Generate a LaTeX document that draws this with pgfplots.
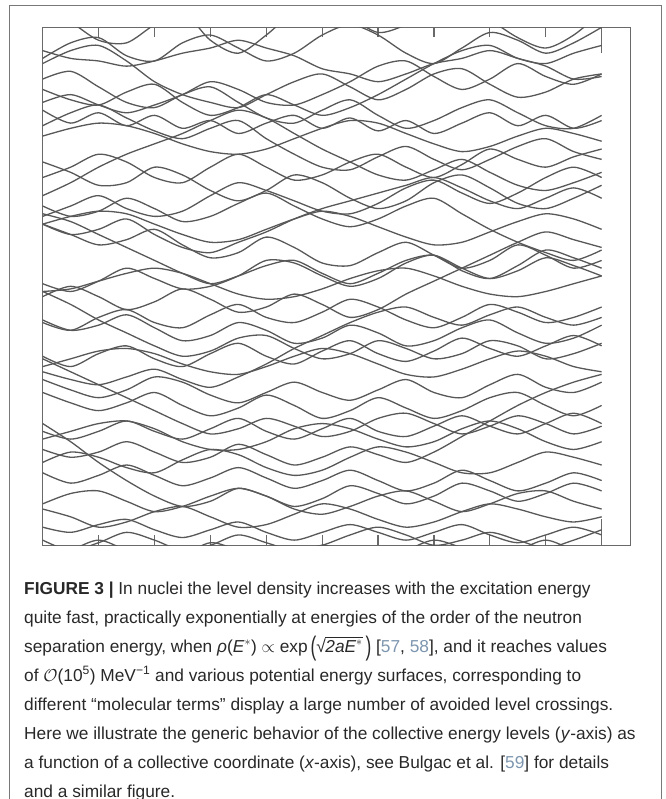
\documentclass[border=0pt]{standalone}
\usepackage{pgfplots}
\pgfplotsset{compat=1.18}
\usepackage{pgfplotstable}
\usepackage{amsmath}
\usepackage{graphicx}
\usepackage{fontspec}
\setmainfont{Liberation Sans}
\definecolor{levc}{RGB}{88,88,88}
\definecolor{axc}{RGB}{105,105,105}
\definecolor{capc}{RGB}{40,40,40}
\definecolor{lnk}{RGB}{125,150,175}
\definecolor{frc}{RGB}{120,120,120}
\pgfplotstableread{
name v0 v1 v2 v3 v4 v5 v6 v7 v8 v9 v10 v11 v12 v13 v14 v15 v16 v17 v18 v19 v20
xx 0 0.5 1 1.5 2 2.5 3 3.5 4 4.5 5 5.5 6 6.5 7 7.5 8 8.5 9 9.5 10
c1 10.35 10.1 9.75 9.7 10.05 10.3 9.75 9.5 9.85 10.3 10.45 10.2 9.9 10.05 10.35 10.5 10.15 9.8 9.6 9.85 10.3
c2 9.4 9.7 9.8 9.45 9.35 9.7 9.85 9.6 9.35 9.5 9.85 10.05 9.85 9.5 9.3 9.6 9.9 9.75 9.5 9.7 10.0
c3 9.55 9.4 9.35 9.25 9.35 9.5 9.6 9.75 9.6 9.45 9.2 9.1 8.95 9.1 9.3 9.4 9.55 9.4 9.25 9.0 9.05
c4 9.3 9.55 9.65 9.35 8.95 8.7 8.55 8.45 8.7 8.95 9.1 8.85 8.6 8.8 9.1 9.2 8.9 8.65 8.75 9.0 9.1
c5 8.55 8.7 8.5 8.35 8.5 8.7 8.95 8.8 8.55 8.5 8.7 8.95 9.25 9.35 9.05 8.8 9.0 9.3 9.05 8.9 9.1
c6 8.8 8.6 8.5 8.75 8.9 8.55 8.3 8.45 8.7 8.5 8.3 8.45 8.7 9.0 9.3 9.55 9.65 9.4 9.3 9.5 9.65
c7 9.0 9.15 8.85 8.55 8.45 8.7 8.85 8.55 8.25 8.15 8.4 8.6 8.3 8.05 8.2 8.45 8.6 8.35 8.1 8.05 8.3
c8 8.4 8.15 8.35 8.1 8.3 8.05 8.2 7.95 8.15 8.3 8.05 8.25 8.0 8.2 7.95 8.15 8.35 8.1 8.3 8.05 8.2
c9 8.1 8.35 8.5 8.25 8.0 7.85 8.05 8.2 7.85 7.55 7.3 7.25 7.5 7.7 7.45 7.25 7.45 7.7 7.85 7.6 7.45
c10 7.9 8.05 8.15 8.1 7.95 7.75 7.6 7.55 7.65 7.85 8.05 8.2 8.15 7.95 7.75 7.6 7.7 7.9 8.05 7.95 7.8
c11 7.1 7.3 7.55 7.4 7.1 7.0 7.3 7.55 7.3 7.05 7.15 7.4 7.55 7.3 7.1 7.35 7.65 7.45 7.3 7.5 7.65
c12 6.75 7.0 7.3 7.55 7.75 7.95 8.2 8.4 8.25 7.95 7.65 7.4 7.15 7.05 7.25 7.45 7.2 6.95 6.85 7.0 7.2
c13 7.4 7.2 6.95 7.0 7.3 7.15 6.85 6.65 6.85 7.15 7.0 6.7 6.5 6.65 7.0 7.15 6.9 6.6 6.5 6.7 6.95
c14 6.35 6.55 6.75 6.5 6.35 6.45 6.75 7.0 6.85 6.65 6.45 6.4 6.6 6.9 7.05 6.8 6.6 6.8 7.1 7.3 7.1
c15 6.55 6.35 6.45 6.7 6.5 6.25 6.35 6.6 6.8 6.55 6.3 6.15 6.3 6.55 6.7 6.4 6.1 5.85 5.65 5.5 5.7
c16 6.2 6.35 6.45 6.4 6.2 6.0 5.85 5.9 6.1 6.3 6.45 6.35 6.15 5.95 5.8 5.85 6.05 6.25 6.4 6.3 6.1
c17 6.2 6.0 6.1 6.3 6.0 5.75 5.65 5.85 6.05 6.3 6.5 6.65 6.8 6.95 7.1 6.9 6.65 6.5 6.7 6.9 6.7
c18 6.2 6.0 5.8 5.9 6.1 5.8 5.55 5.65 5.95 5.75 5.45 5.4 5.65 5.85 5.6 5.35 5.5 5.8 5.6 5.35 5.5
c19 6.4 6.25 6.0 5.75 5.5 5.25 5.05 5.2 5.4 5.5 5.25 5.05 5.25 5.5 5.6 5.35 5.15 5.3 5.55 5.4 5.2
c20 5.05 4.9 5.1 5.35 5.15 4.95 5.0 5.2 5.5 5.45 5.2 5.0 5.15 5.45 5.6 5.3 5.15 5.4 5.7 5.55 5.35
c21 4.9 4.95 5.1 5.25 5.35 5.25 5.05 4.85 4.75 4.8 4.95 5.15 5.3 5.35 5.2 5.0 4.85 4.8 4.9 5.05 5.2
c22 4.8 5.0 4.8 4.55 4.7 4.95 4.75 4.5 4.6 4.85 4.65 4.4 4.55 4.85 5.1 5.35 5.6 5.85 6.05 5.9 5.75
c23 4.3 4.15 4.4 4.55 4.3 4.2 4.45 4.65 4.4 4.3 4.5 4.75 4.6 4.35 4.2 4.4 4.65 4.5 4.3 4.4 4.6
c24 4.35 4.15 4.25 4.45 4.2 3.95 4.05 4.3 4.15 3.9 4.0 4.25 4.1 3.85 3.95 4.2 4.35 4.1 3.9 4.0 4.25
c25 4.9 4.65 4.35 4.1 3.85 3.65 3.75 4.0 4.05 3.8 3.6 3.7 3.95 3.8 3.6 3.7 3.95 3.85 3.6 3.7 3.9
c26 3.65 3.45 3.7 3.85 3.6 3.45 3.7 3.9 3.65 3.5 3.75 3.95 3.7 3.55 3.75 4.0 3.8 3.65 3.85 4.05 3.85
c27 3.45 3.6 3.75 3.8 3.7 3.5 3.35 3.3 3.45 3.65 3.8 3.7 3.5 3.3 3.25 3.4 3.6 3.75 3.65 3.45 3.35
c28 3.35 3.2 3.1 3.25 3.4 3.2 3.05 3.25 3.5 3.8 4.05 4.3 4.5 4.6 4.4 4.25 4.45 4.6 4.4 4.25 4.4
c29 3.2 3.0 2.85 3.0 3.25 3.15 2.9 2.75 2.95 3.15 2.95 2.8 3.0 3.2 2.95 2.85 3.1 3.3 3.05 2.95 3.15
c30 2.95 2.75 2.6 2.75 2.95 2.7 2.5 2.65 2.9 2.7 2.45 2.6 2.85 2.65 2.45 2.6 2.85 2.95 2.7 2.5 2.7
c31 3.6 3.35 3.1 2.85 2.6 2.35 2.15 2.25 2.45 2.3 2.1 2.2 2.45 2.55 2.35 2.15 2.3 2.5 2.35 2.15 2.3
c32 2.2 2.05 2.2 2.4 2.2 2.05 2.25 2.45 2.2 2.05 2.25 2.45 2.2 2.1 2.3 2.5 2.3 2.15 2.35 2.55 2.35
c33 2.05 2.2 2.35 2.4 2.25 2.0 1.85 1.85 2.0 2.25 2.35 2.25 2.05 1.9 2.0 2.25 2.4 2.25 2.0 1.85 2.0
c34 1.85 1.7 1.8 2.0 1.8 1.6 1.7 1.95 1.75 1.55 1.7 1.9 1.75 1.6 1.8 2.1 2.4 2.7 2.95 3.15 3.3
c35 1.6 1.8 1.7 1.5 1.4 1.65 1.85 1.75 1.5 1.35 1.45 1.7 1.9 1.8 1.6 1.4 1.4 1.6 1.8 1.7 1.55
c36 1.4 1.2 1.35 1.55 1.35 1.15 1.3 1.5 1.3 1.1 1.25 1.45 1.25 1.05 1.2 1.45 1.25 1.05 1.2 1.4 1.25
c37 2.35 2.0 1.6 1.25 0.95 0.75 0.85 1.1 0.95 0.75 0.9 1.15 1.0 0.8 0.95 1.2 1.05 0.85 1.0 1.2 1.05
c38 0.8 1.0 1.05 0.85 0.65 0.75 0.95 1.1 0.95 0.7 0.6 0.75 0.95 1.05 0.85 0.65 0.8 1.0 1.05 0.85 0.7
c39 0.7 0.55 0.35 0.45 0.65 0.75 0.55 0.35 0.4 0.6 0.8 0.7 0.5 0.35 0.45 0.65 0.8 0.7 0.55 0.45 0.55
c40 0.35 0.25 0.4 0.5 0.3 0.15 0.3 0.45 0.25 0.1 0.25 0.4 0.25 0.1 0.25 0.4 0.2 0.05 0.2 0.35 0.2
c41 0.1 -0.1 0.05 0.25 0.1 -0.1 0.0 0.2 0.05 -0.1 0.0 0.2 0.35 0.2 0.0 0.1 0.25 0.1 -0.05 0.1 0.3
c42 -0.3 -0.1 0.1 -0.1 -0.3 -0.2 0.05 -0.1 -0.3 -0.2 0.0 -0.15 -0.3 -0.1 0.1 -0.05 -0.25 -0.1 0.1 -0.1 -0.3
}\rawlevels
\pgfplotstabletranspose[colnames from=name]\levels\rawlevels

\begin{document}
\begin{tikzpicture}
\path[use as bounding box] (0,0) rectangle (665pt,-799pt);
\draw[frc, line width=1pt] (9pt,-810pt) -- (9pt,-6pt) -- (661pt,-6pt) -- (661pt,-810pt);
\begin{axis}[
  at={(42.7pt,-27.3pt)}, anchor=north west,
  scale only axis, width=588pt, height=518pt,
  xmin=0, xmax=10.52, ymin=0, ymax=10,
  xtick={0,10}, minor xtick={1,2,3,4,5,6,7,8,9},
  ytick=\empty, minor ytick={1,2,3,4,5,6,7,8,9},
  xticklabels={}, yticklabels={},
  tick align=inside, tick pos=both,
  major tick length=26pt, minor tick length=10pt,
  axis line style={axc, line width=1.2pt},
  every tick/.style={axc, line width=1.2pt},
  every minor tick/.style={axc, line width=1.2pt},
  every major tick/.style={axc, line width=1.2pt},
]
\pgfplotsinvokeforeach{1,...,42}{
  \addplot[levc, line width=1.3pt, smooth, tension=0.5] table[x=xx, y=c#1]{\levels};
}
\end{axis}
\begin{scope}[every node/.style={anchor=base west, inner sep=0pt, text=capc, font=\fontsize{17.3pt}{29pt}\selectfont}]
\node at (24pt,-594pt) {\textbf{FIGURE 3 |} In nuclei the level density increases with the excitation energy};
\node at (24pt,-623pt) {quite fast, practically exponentially at energies of the order of the neutron};
\node at (24pt,-652pt) {separation energy, when \textit{ρ}(\textit{E}$^{*}$) $\propto$ exp\,\raisebox{-0.22em}{\scalebox{1}[1.55]{(}}√\kern-0.5pt$\overline{\smash{\mbox{\itshape 2aE$^{*}$}}\vphantom{E}}$\,\raisebox{-0.22em}{\scalebox{1}[1.55]{)}} [{\color{lnk}57}, {\color{lnk}58}], and it reaches values};
\node at (24pt,-681pt) {of $\mathcal{O}$(10\textsuperscript{5}) MeV\textsuperscript{−1} and various potential energy surfaces, corresponding to};
\node at (24pt,-710pt) {different “molecular terms” display a large number of avoided level crossings.};
\node at (24pt,-739pt) {Here we illustrate the generic behavior of the collective energy levels (\textit{y}-axis) as};
\node at (24pt,-768pt) {a function of a collective coordinate (\textit{x}-axis), see Bulgac et al. [{\color{lnk}59}] for details};
\node at (24pt,-797pt) {and a similar figure.};
\end{scope}
\end{tikzpicture}
\end{document}
